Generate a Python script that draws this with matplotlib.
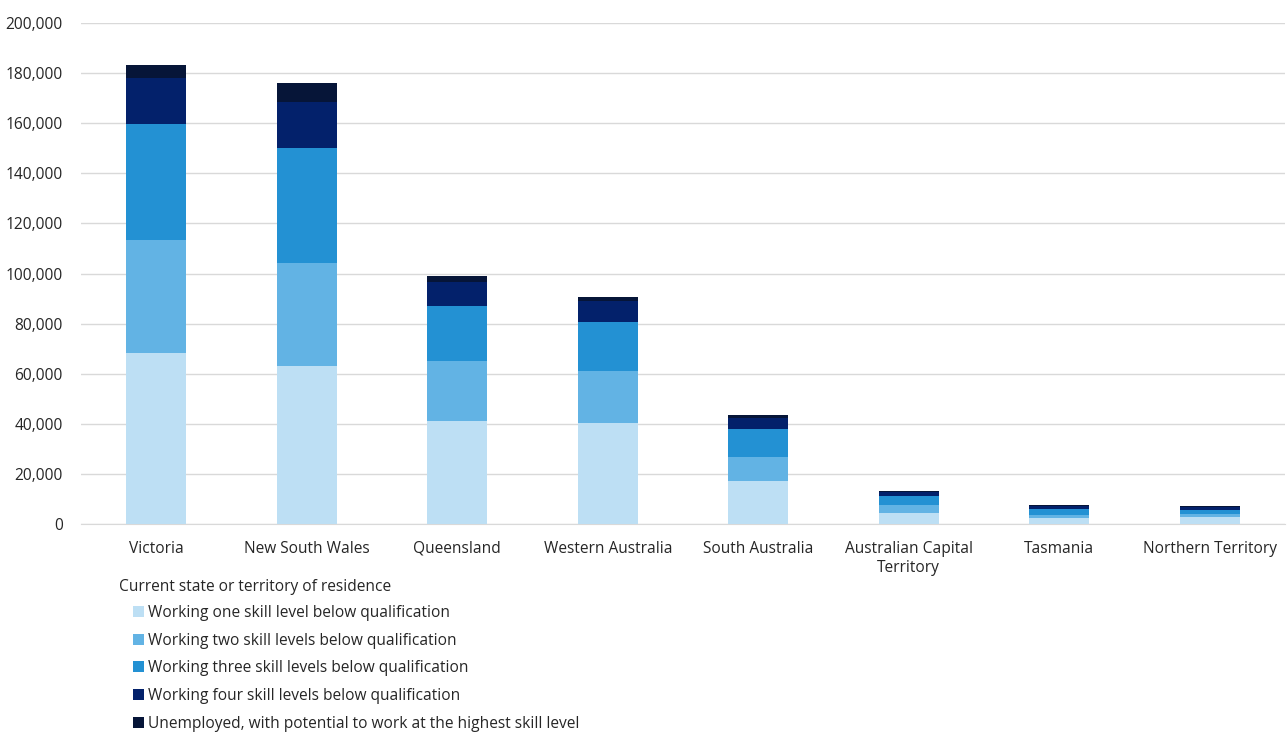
import matplotlib.pyplot as plt
from matplotlib.patches import Patch
from matplotlib.ticker import FuncFormatter

plt.rcParams['font.family'] = ['Open Sans', 'DejaVu Sans']

states = ["Victoria", "New South Wales", "Queensland", "Western Australia",
          "South Australia", "Australian Capital\nTerritory", "Tasmania",
          "Northern Territory"]

# counts by state, one list per mismatch level
one_below = [68300, 63100, 41100, 40300, 17200, 4500, 2200, 2600]
two_below = [45100, 41100, 24000, 20800, 9500, 2900, 1500, 1500]
three_below = [46300, 45900, 21900, 19500, 11200, 3600, 2300, 1600]
four_below = [18300, 18400, 9600, 8400, 4500, 1900, 1300, 900]
unemployed = [5200, 7500, 2400, 1600, 1100, 400, 300, 400]

series = [
    ("Working one skill level below qualification", one_below, "#BDDFF4"),
    ("Working two skill levels below qualification", two_below, "#62B3E4"),
    ("Working three skill levels below qualification", three_below, "#2391D3"),
    ("Working four skill levels below qualification", four_below, "#03216B"),
    ("Unemployed, with potential to work at the highest skill level", unemployed, "#061538"),
]

txt = '#262626'
fs = 11.2

fig = plt.figure(figsize=(12.88, 7.33), dpi=100)
ax = fig.add_axes([81 / 1288, 1 - 524 / 733, (1285 - 81) / 1288, (524 - 23) / 733])

x = range(len(states))
bottom = [0] * len(states)
handles = []
for name, vals, col in series:
    ax.bar(x, vals, 0.4, bottom=bottom, color=col, zorder=3)
    bottom = [b + v for b, v in zip(bottom, vals)]
    handles.append(Patch(facecolor=col, label=name))

ax.set_ylim(0, 200000)
ax.set_xlim(-0.5, len(states) - 0.5)
ax.set_yticks(range(0, 200001, 20000))
ax.yaxis.set_major_formatter(FuncFormatter(lambda v, p: f"{int(v):,}"))
ax.grid(axis='y', color='#D9D9D9', linewidth=1, zorder=0)
for s in ['top', 'right', 'left']:
    ax.spines[s].set_visible(False)
ax.spines['bottom'].set_color('#D9D9D9')
ax.tick_params(axis='both', length=0, labelsize=fs, colors=txt)
ax.tick_params(axis='y', pad=13)
ax.tick_params(axis='x', pad=12)
ax.set_xticks(list(x))
ax.set_xticklabels(states, linespacing=1.25)

fig.text(119 / 1288, 1 - 587 / 733, "Current state or territory of residence",
         fontsize=fs, color=txt, va='center', ha='left')
leg = fig.legend(handles=handles, loc='upper left',
                 bbox_to_anchor=(122 / 1288, 1 - 594 / 733),
                 frameon=False, fontsize=fs,
                 handlelength=0.7, handleheight=0.7, handletextpad=0.3,
                 labelspacing=0.75, borderpad=0.2)
for t in leg.get_texts():
    t.set_color(txt)

fig.savefig("out.png", dpi=100)
